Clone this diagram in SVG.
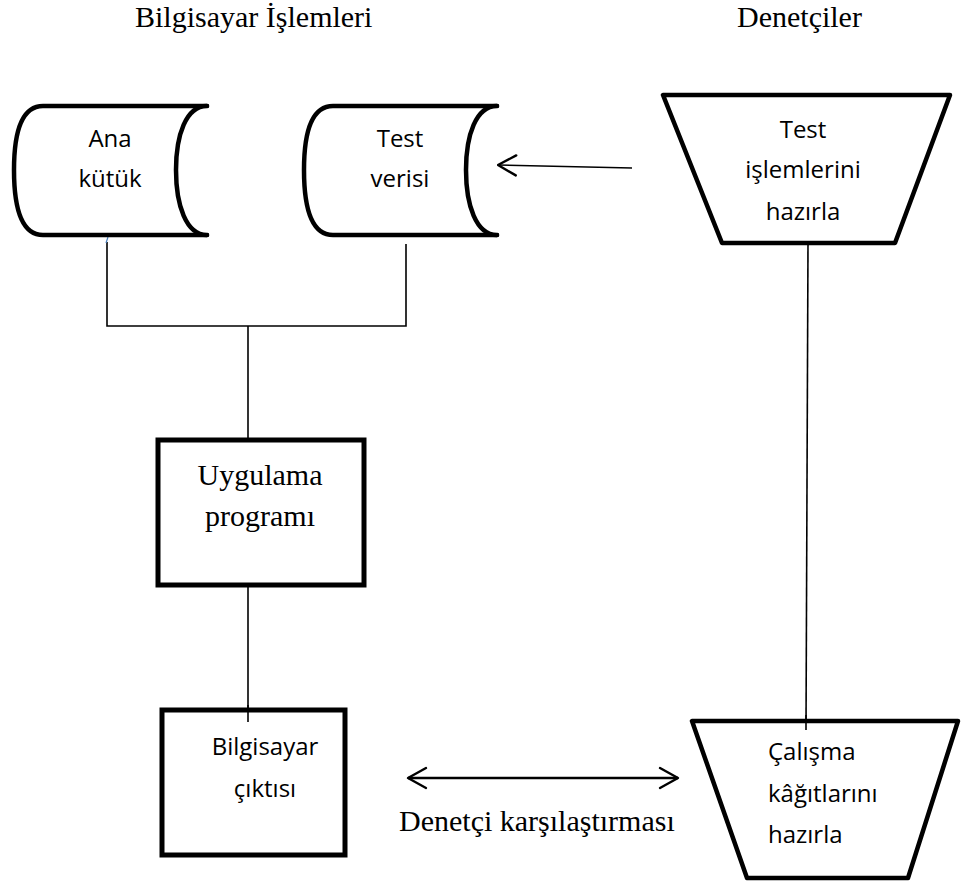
<svg xmlns="http://www.w3.org/2000/svg" width="961" height="886" viewBox="0 0 961 886">
  <style>
    .shape { fill: #fff; stroke: #000; stroke-width: 4.5; stroke-linecap: round; stroke-linejoin: round; }
    .box { fill: #fff; stroke: #000; stroke-width: 5; }
    .sans { font-family: "Open Sans", "Liberation Sans", sans-serif; font-size: 24px; fill: #000; }
    .serif { font-family: "Liberation Serif", "Times New Roman", serif; font-size: 30px; fill: #000; }
    .mid { text-anchor: middle; }
    .wire { fill: none; stroke: #000; stroke-width: 1.6; }
    .wire2 { fill: none; stroke: #000; stroke-width: 2.6; }
  </style>
  <defs>
    <marker id="open-arrow" markerUnits="userSpaceOnUse" markerWidth="26" markerHeight="26" viewBox="-22 -13 26 26" refX="0" refY="0" orient="auto-start-reverse">
      <path d="M-18,-10 L0,0 L-18,10" fill="none" stroke="#000" stroke-width="2.4" stroke-linecap="round" stroke-linejoin="round"/>
    </marker>
  </defs>

  <!-- column headings -->
  <text class="serif" x="135" y="27">Bilgisayar İşlemleri</text>
  <text class="serif" x="737" y="27">Denetçiler</text>

  <!-- connectors -->
  <g id="connectors">
    <path class="wire" d="M107,242 V326 H406 V244"/>
    <path class="wire" d="M248,326 V440"/>
    <path class="wire" d="M248,585 V722"/>
    <path class="wire" d="M808,243 L806,730"/>
    <line class="wire" x1="632" y1="168" x2="498" y2="165" marker-end="url(#open-arrow)"/>
    <line class="wire2" x1="408" y1="778" x2="678" y2="778" marker-start="url(#open-arrow)" marker-end="url(#open-arrow)"/>
    <line x1="106" y1="243" x2="108" y2="237" stroke="#4a7ebb" stroke-width="1.2"/>
  </g>

  <!-- stored data: master file -->
  <g id="ana-kutuk">
    <path class="shape" d="M207,106 L43,106 C20,106 14,135 14,170 C14,205 20,235 43,235 L207,235"/>
    <path class="shape" d="M207,106 C186,106 176,135 176,170 C176,205 186,235 207,235" fill="none"/>
    <text class="sans mid" x="110" y="147">Ana</text>
    <text class="sans mid" x="110" y="187">kütük</text>
  </g>

  <!-- stored data: test data -->
  <g id="test-verisi">
    <path class="shape" d="M497,106 L333,106 C310,106 304,135 304,170 C304,205 310,235 333,235 L497,235"/>
    <path class="shape" d="M497,106 C476,106 466,135 466,170 C466,205 476,235 497,235" fill="none"/>
    <text class="sans mid" x="400" y="147">Test</text>
    <text class="sans mid" x="400" y="187">verisi</text>
  </g>

  <!-- manual operation: prepare test transactions -->
  <g id="test-islemleri">
    <polygon class="shape" points="663,95 950,95 895,243 722,243" stroke-linejoin="miter"/>
    <text class="sans mid" x="803" y="138">Test</text>
    <text class="sans mid" x="803" y="178">işlemlerini</text>
    <text class="sans mid" x="803" y="220">hazırla</text>
  </g>

  <!-- application program -->
  <g id="uygulama-programi">
    <rect class="box" x="158" y="440" width="206" height="145"/>
    <text class="serif mid" x="260" y="485">Uygulama</text>
    <text class="serif mid" x="260" y="526">programı</text>
  </g>

  <!-- computer output -->
  <g id="bilgisayar-ciktisi">
    <rect class="box" x="162" y="710" width="183" height="145"/>
    <path class="wire" d="M248,705 V722"/>
    <text class="sans mid" x="265" y="755">Bilgisayar</text>
    <text class="sans mid" x="265" y="797">çıktısı</text>
  </g>

  <!-- manual operation: prepare working papers -->
  <g id="calisma-kagitlari">
    <polygon class="shape" points="692,721 958,721 908,878 747,878" stroke-linejoin="miter"/>
    <path class="wire" d="M806,715 V730"/>
    <text class="sans" x="768" y="760">Çalışma</text>
    <text class="sans" x="768" y="802">kâğıtlarını</text>
    <text class="sans" x="768" y="843">hazırla</text>
  </g>

  <text class="serif" x="399" y="831">Denetçi karşılaştırması</text>
</svg>
